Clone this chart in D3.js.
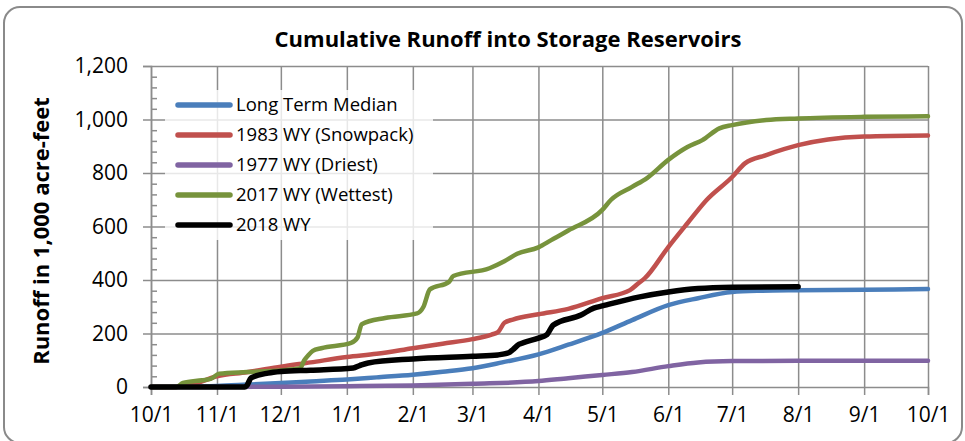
<!DOCTYPE html>
<html lang="en">
    <head>
        <meta charset="utf-8">
        <title>Cumulative Runoff into Storage Reservoirs</title>
        <script type="text/javascript" src="https://cdn.jsdelivr.net/npm/d3@7"></script>
        <style type="text/css">
        body { margin: 0; background: #fff; }
        text { font-family: "Open Sans", sans-serif; fill: #000; }
        </style>
    </head>
    <body>
        <script type="text/javascript">

            //Width and height
            var w = 965;
            var h = 441;

            //Month tick labels (water year)
            var tickLabels = ["10/1", "11/1", "12/1", "1/1", "2/1", "3/1", "4/1",
                              "5/1", "6/1", "7/1", "8/1", "9/1", "10/1"];

            var seriesNames = ["Long Term Median", "1983 WY (Snowpack)", "1977 WY (Driest)",
                               "2017 WY (Wettest)", "2018 WY"];
            var seriesColors = ["#4a7ebb", "#c0504d", "#8064a2", "#77933c", "#000000"];

            //Long Term Median
            var medianDates = ["10/1", "10/15", "11/1", "11/15", "12/1", "12/15", "1/1", "1/15",
                               "2/1", "2/15", "3/1", "3/15", "4/1", "4/15", "5/1", "5/15",
                               "6/1", "6/15", "7/1", "7/15", "8/1", "9/1", "10/1+"];
            var medianValues = [0, 1, 4, 9, 15, 21, 28, 36,
                                46, 57, 70, 92, 122, 158, 202, 250,
                                306, 332, 355, 360, 362, 364, 366];

            //1983 WY (Snowpack)
            var snowDates = ["10/1", "10/12", "10/20", "11/1", "11/15", "12/1", "12/15", "1/1",
                             "1/15", "2/1", "2/15", "3/1", "3/10", "3/13", "3/16", "3/20",
                             "4/1", "4/15", "5/1", "5/14", "5/18", "5/21", "6/1", "6/10",
                             "6/19", "7/1", "7/7", "7/17", "8/1", "8/15", "9/1", "10/1+"];
            var snowValues = [0, 0, 8, 40, 55, 76, 92, 112,
                              124, 145, 162, 179, 196, 205, 240, 252,
                              272, 292, 332, 362, 388, 407, 523, 612,
                              699, 785, 836, 867, 904, 925, 936, 940];

            //1977 WY (Driest)
            var dryDates = ["10/1", "11/1", "12/1", "1/1", "2/1", "3/1", "4/1", "4/15",
                            "5/1", "5/15", "6/1", "6/15", "7/1", "8/1", "10/1+"];
            var dryValues = [0, 0, 1, 3, 6, 12, 22, 33,
                             45, 56, 78, 92, 97, 98, 98];

            //2017 WY (Wettest)
            var wetDates = ["10/1", "10/13", "10/16", "10/25", "10/29", "11/2", "11/15", "12/1",
                            "12/10", "12/12", "12/14", "12/16", "12/20", "1/3", "1/6", "1/8",
                            "1/19", "2/3", "2/6", "2/9", "2/18", "2/20", "3/9", "3/16",
                            "3/22", "4/1", "4/7", "4/15", "5/1", "5/5", "5/15", "5/22",
                            "6/1", "6/10", "6/17", "6/25", "7/1", "7/17", "8/1", "9/1", "10/1+"];
            var wetValues = [0, 0, 15, 25, 30, 50, 56, 62,
                             70, 100, 120, 135, 145, 165, 185, 235,
                             258, 275, 300, 365, 393, 415, 444, 470,
                             498, 522, 549, 585, 662, 699, 748, 781,
                             849, 897, 923, 967, 979, 998, 1004, 1010, 1012];

            //2018 WY
            var wy18Dates = ["10/1", "11/14", "11/15", "11/17", "11/25", "12/1", "12/15", "1/4",
                             "1/7", "1/11", "2/1", "3/1", "3/13", "3/18", "3/20", "3/23",
                             "3/25", "4/1", "4/5", "4/8", "4/21", "4/27", "5/1", "5/18",
                             "6/1", "6/15", "7/1", "8/1"];
            var wy18Values = [0, 0, 5, 34, 52, 58, 63, 71,
                              80, 90, 105, 115, 120, 128, 140, 160,
                              166, 183, 196, 232, 269, 295, 303, 336,
                              355, 368, 373, 375];

            //"M/D" inside a water year -> Date ("10/1+" is the closing 10/1)
            var toDate = function(s) {
                if (s === "10/1+") return new Date(2018, 9, 1);
                var p = s.split("/");
                var m = +p[0], d = +p[1];
                return new Date(m >= 10 ? 2017 : 2018, m - 1, d);
            };

            var makeSeries = function(dates, values) {
                return dates.map(function(d, i) {
                    return { date: toDate(d), value: values[i] };
                });
            };

            var series = [
                makeSeries(medianDates, medianValues),
                makeSeries(snowDates, snowValues),
                makeSeries(dryDates, dryValues),
                makeSeries(wetDates, wetValues),
                makeSeries(wy18Dates, wy18Values)
            ];

            var tickDates = tickLabels.map(function(t, i) {
                return i === tickLabels.length - 1 ? toDate("10/1+") : toDate(t);
            });

            var xScale = d3.scaleTime()
                           .domain([toDate("10/1"), toDate("10/1+")])
                           .range([151, 928]);

            var yScale = d3.scaleLinear()
                           .domain([0, 1200])
                           .range([387, 66]);

            var svg = d3.select("body")
                        .append("svg")
                        .attr("width", w)
                        .attr("height", h);

            //Chart border
            svg.append("rect")
               .attr("x", 4)
               .attr("y", 7)
               .attr("width", 958)
               .attr("height", 436)
               .attr("rx", 16)
               .attr("fill", "#fff")
               .attr("stroke", "#8a8a8a")
               .attr("stroke-width", 2);

            //Vertical gridlines
            svg.append("g")
               .attr("transform", "translate(0," + yScale(0) + ")")
               .call(d3.axisBottom(xScale)
                       .tickValues(tickDates)
                       .tickSize(-(yScale(0) - yScale(1200)))
                       .tickFormat(""))
               .call(function(g) {
                   g.select(".domain").remove();
                   g.selectAll("line").attr("stroke", "#8c8c8c").attr("stroke-width", 1.5);
               });

            //Horizontal gridlines
            svg.append("g")
               .attr("transform", "translate(" + xScale.range()[0] + ",0)")
               .call(d3.axisLeft(yScale)
                       .tickValues(d3.range(200, 1201, 200))
                       .tickSize(-(xScale.range()[1] - xScale.range()[0]))
                       .tickFormat(""))
               .call(function(g) {
                   g.select(".domain").remove();
                   g.selectAll("line").attr("stroke", "#8c8c8c").attr("stroke-width", 1.5);
               });

            //Y minor ticks (inside)
            svg.append("g")
               .attr("transform", "translate(" + xScale.range()[0] + ",0)")
               .call(d3.axisRight(yScale)
                       .tickValues(d3.range(0, 1201, 40).filter(function(v) { return v % 200 !== 0; }))
                       .tickSize(6)
                       .tickFormat(""))
               .call(function(g) {
                   g.select(".domain").remove();
                   g.selectAll("line").attr("stroke", "#8c8c8c").attr("stroke-width", 1.5);
               });

            //Y axis
            svg.append("g")
               .attr("transform", "translate(" + xScale.range()[0] + ",0)")
               .call(d3.axisLeft(yScale)
                       .tickValues(d3.range(0, 1201, 200))
                       .tickSize(8)
                       .tickPadding(15)
                       .tickFormat(d3.format(",")))
               .call(function(g) {
                   g.select(".domain").attr("stroke", "#8c8c8c").attr("stroke-width", 1.5);
                   g.selectAll("line").attr("stroke", "#8c8c8c").attr("stroke-width", 1.5);
                   g.selectAll("text").attr("font-size", "21px")
                    .attr("font-family", "'Open Sans', sans-serif").attr("fill", "#000");
               });

            //X axis
            svg.append("g")
               .attr("transform", "translate(0," + yScale(0) + ")")
               .call(d3.axisBottom(xScale)
                       .tickValues(tickDates)
                       .tickSize(8)
                       .tickPadding(12)
                       .tickFormat(function(d, i) { return tickLabels[i]; }))
               .call(function(g) {
                   g.select(".domain").attr("stroke", "#8c8c8c").attr("stroke-width", 1.5);
                   g.selectAll("line").attr("stroke", "#8c8c8c").attr("stroke-width", 1.5);
                   g.selectAll("text").attr("font-size", "21px")
                    .attr("font-family", "'Open Sans', sans-serif").attr("fill", "#000");
               });

            //Lines
            var line = d3.line()
                         .x(function(d) { return xScale(d.date); })
                         .y(function(d) { return yScale(d.value); })
                         .curve(d3.curveMonotoneX);

            svg.selectAll(".series")
               .data(series)
               .enter()
               .append("path")
               .attr("class", "series")
               .attr("d", line)
               .attr("fill", "none")
               .attr("stroke", function(d, i) { return seriesColors[i]; })
               .attr("stroke-width", function(d, i) { return i === 4 ? 5.5 : 4.5; })
               .attr("stroke-linejoin", "round")
               .attr("stroke-linecap", "round");

            //Legend
            var legend = svg.append("g");

            legend.append("rect")
                  .attr("x", 165)
                  .attr("y", 90)
                  .attr("width", 268)
                  .attr("height", 150)
                  .attr("fill", "#fff")
                  .attr("fill-opacity", 0.8);

            var items = legend.selectAll(".item")
                              .data(seriesNames)
                              .enter()
                              .append("g")
                              .attr("class", "item")
                              .attr("transform", function(d, i) {
                                  return "translate(178," + (105 + i * 30) + ")";
                              });

            items.append("line")
                 .attr("x1", 0)
                 .attr("x2", 52)
                 .attr("stroke", function(d, i) { return seriesColors[i]; })
                 .attr("stroke-width", 5.5)
                 .attr("stroke-linecap", "round");

            items.append("text")
                 .attr("x", 58)
                 .attr("dy", "0.35em")
                 .attr("font-size", "18.5px")
                 .text(function(d) { return d; });

            //Title
            svg.append("text")
               .attr("x", 508)
               .attr("y", 47)
               .attr("text-anchor", "middle")
               .attr("font-size", "22px")
               .attr("font-weight", "bold")
               .text("Cumulative Runoff into Storage Reservoirs");

            //Y axis title
            svg.append("text")
               .attr("transform", "translate(49,231) rotate(-90)")
               .attr("text-anchor", "middle")
               .attr("font-size", "22px")
               .attr("font-weight", "bold")
               .text("Runoff in 1,000 acre-feet");

        </script>
    </body>
</html>
